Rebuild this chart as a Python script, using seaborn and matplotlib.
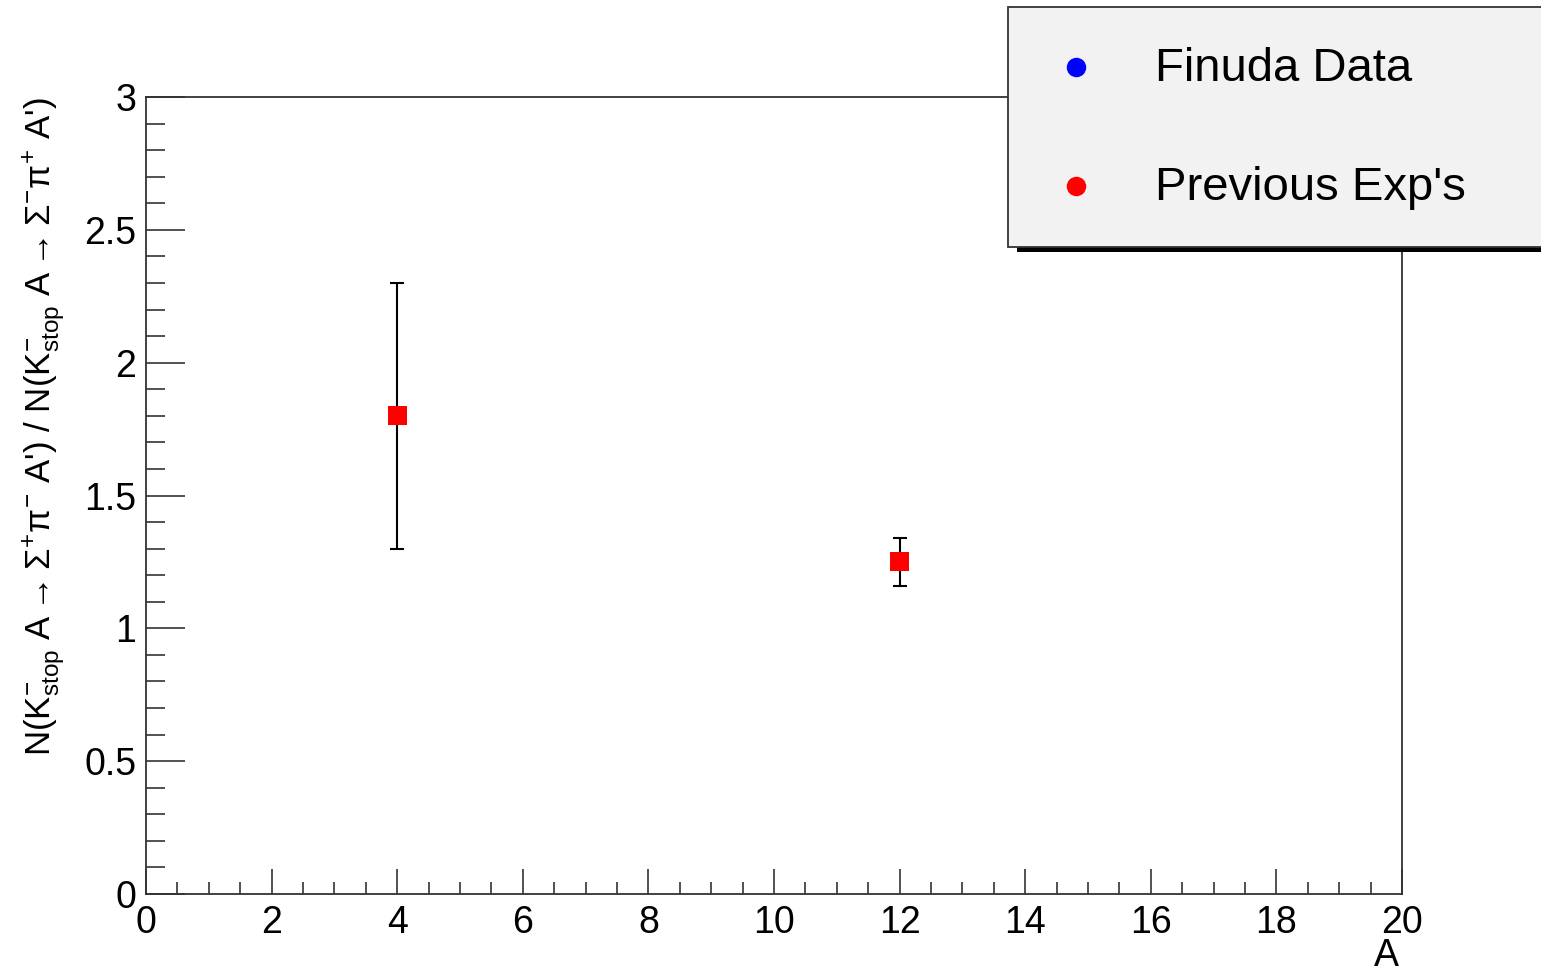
import matplotlib
matplotlib.use("Agg")
import matplotlib.pyplot as plt
from matplotlib.patches import Rectangle
from matplotlib.lines import Line2D
from matplotlib.ticker import MultipleLocator
import seaborn as sns
import pandas as pd

# ---- data ----
prev_A = [4, 12]
prev_ratio = [1.80, 1.25]
prev_err = [0.50, 0.09]
finuda_A = []
finuda_ratio = []
legend_labels = ["Finuda Data", "Previous Exp's"]
legend_colors = ["#0000ff", "#ff0000"]
x_ticks = [0, 2, 4, 6, 8, 10, 12, 14, 16, 18, 20]
y_ticks = [0, 0.5, 1, 1.5, 2, 2.5, 3]

sns.set_theme(style="white")
plt.rcParams['font.family'] = ['Liberation Sans', 'DejaVu Sans']
plt.rcParams['text.color'] = 'black'
plt.rcParams['axes.labelcolor'] = 'black'
plt.rcParams['xtick.color'] = 'black'
plt.rcParams['ytick.color'] = 'black'
plt.rcParams['mathtext.fontset'] = 'custom'
plt.rcParams['mathtext.rm'] = 'Liberation Sans'
plt.rcParams['mathtext.it'] = 'Liberation Sans'
plt.rcParams['mathtext.bf'] = 'Liberation Sans'
plt.rcParams['mathtext.sf'] = 'Liberation Sans'

W, H = 1541, 977
fig = plt.figure(figsize=(W / 100, H / 100), dpi=100)
ax = fig.add_axes([146 / W, 1 - 894 / H, (1402 - 146) / W, (894 - 97) / H])

df = pd.DataFrame({"A": prev_A, "ratio": prev_ratio, "err": prev_err})
ax.errorbar(df["A"], df["ratio"], yerr=df["err"], fmt="none", ecolor="black",
            elinewidth=1.5, capsize=5, capthick=1.5, zorder=2)
sns.scatterplot(data=df, x="A", y="ratio", marker="s", color="#ff0000", s=190,
                edgecolor="none", ax=ax, zorder=3, legend=False)

ax.set_xlim(0, 20)
ax.set_ylim(0, 3)
ax.set_xticks(x_ticks)
ax.set_yticks(y_ticks)
ax.set_xticklabels([str(t) for t in x_ticks])
ax.set_yticklabels(["0", "0.5", "1", "1.5", "2", "2.5", "3"])
ax.xaxis.set_minor_locator(MultipleLocator(0.5))
ax.yaxis.set_minor_locator(MultipleLocator(0.1))
ax.tick_params(axis="x", which="major", direction="in", length=18, width=1.2,
               labelsize=27, pad=8, color="#333333", labelcolor="black",
               bottom=True, top=False)
ax.tick_params(axis="x", which="minor", direction="in", length=9, width=1.2,
               color="#333333", bottom=True, top=False)
ax.tick_params(axis="y", which="major", direction="in", length=28, width=1.2,
               labelsize=27, pad=7, color="#333333", labelcolor="black",
               left=True, right=False)
ax.tick_params(axis="y", which="minor", direction="in", length=14, width=1.2,
               color="#333333", left=True, right=False)
for s in ax.spines.values():
    s.set_visible(True)
    s.set_color("#333333")
    s.set_linewidth(1.3)

ax.set_xlabel("A", fontsize=27, loc="right", color="black")
ax.xaxis.set_label_coords((1399 - 146) / 1256, (894 - 938) / 797)
ax.xaxis.label.set_verticalalignment("top")
ax.set_ylabel(r"N(K$^{-}_{\mathrm{stop}}$ A$\rightarrow\Sigma^{+}\pi^{-}$ A') / "
              r"N(K$^{-}_{\mathrm{stop}}$ A$\rightarrow\Sigma^{-}\pi^{+}$ A')",
              fontsize=25, loc="top", labelpad=12, color="black")

# ---- legend box (ROOT style with shadow) ----
def fx(px):
    return px / W

def fy(py):
    return 1 - py / H

shadow = Rectangle((fx(1017), fy(252)), fx(1560) - fx(1017), fy(16) - fy(252),
                   transform=fig.transFigure, facecolor="black", edgecolor="none",
                   zorder=10)
box = Rectangle((fx(1008), fy(247)), fx(1555) - fx(1008), fy(7) - fy(247),
                transform=fig.transFigure, facecolor="#f2f2f2", edgecolor="#333333",
                linewidth=1.3, zorder=11)
fig.add_artist(shadow)
fig.add_artist(box)
for i, (lab, col) in enumerate(zip(legend_labels, legend_colors)):
    yy = 67 + i * 119
    fig.add_artist(Line2D([fx(1076)], [fy(yy)], marker="o", markersize=13,
                          color=col, markeredgecolor=col, linestyle="none",
                          transform=fig.transFigure, zorder=12))
    fig.text(fx(1155), fy(yy + 2), lab, fontsize=34, va="center", ha="left",
             color="black", zorder=12)

fig.savefig("out.png", dpi=100)
